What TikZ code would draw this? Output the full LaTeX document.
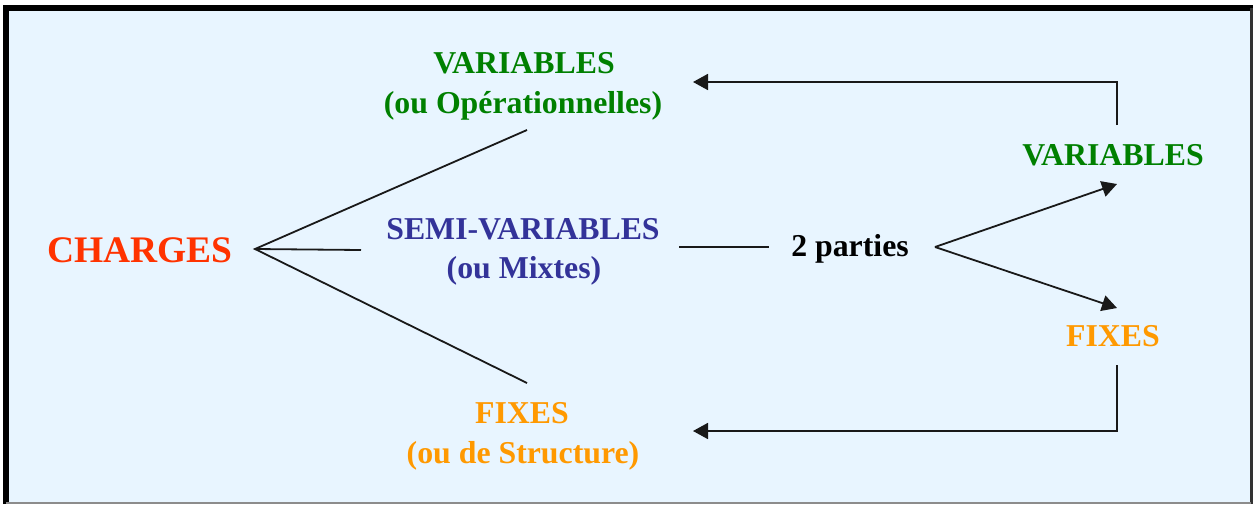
\documentclass[tikz,border=0pt]{standalone}
\usepackage{fontspec}
\setmainfont{Liberation Serif}
\usetikzlibrary{arrows.meta}
\definecolor{bgblue}{RGB}{232,245,255}
\definecolor{cgreen}{RGB}{0,128,0}
\definecolor{cred}{RGB}{255,51,0}
\definecolor{cblue}{RGB}{51,51,153}
\definecolor{corange}{RGB}{255,153,0}
\tikzset{
  lbl/.style={anchor=base, inner sep=0pt, font=\fontsize{31.8}{38}\selectfont\bfseries},
  big/.style={anchor=base, inner sep=0pt, font=\fontsize{37.5}{44}\selectfont\bfseries},
  conn/.style={line width=1.8pt, draw=black!90},
  arr/.style={conn, -{Triangle[length=15pt,width=16pt]}},
}
\begin{document}
\begin{tikzpicture}[x=1pt,y=-1pt]
\useasboundingbox (0,0) rectangle (1253,504);
\fill[white] (0,0) rectangle (1253,504);
\fill[bgblue] (8,10) rectangle (1251,502);
\draw[line width=6pt, black] (6,504) -- (6,8) -- (1253,8);
\draw[line width=3pt, black!80] (1251.5,8) -- (1251.5,504);
\draw[line width=2pt, black!45] (6,502.5) -- (1251,502.5);

% nodes
\node[big, text=cred] (charges) at (140,262) {CHARGES};
\node[lbl, text=cgreen] (var) at (524,73) {VARIABLES};
\node[lbl, text=cgreen] (var2) at (523,113) {(ou Opérationnelles)};
\node[lbl, text=cblue] (semi) at (523,239) {SEMI-VARIABLES};
\node[lbl, text=cblue] (semi2) at (524,278) {(ou Mixtes)};
\node[lbl, text=corange] (fix) at (522,423) {FIXES};
\node[lbl, text=corange] (fix2) at (523,463) {(ou de Structure)};
\node[lbl, text=black] (parties) at (850,256) {2 parties};
\node[lbl, text=cgreen] (rvar) at (1113,165) {VARIABLES};
\node[lbl, text=corange] (rfix) at (1113,346) {FIXES};

% connector points
\coordinate (c0) at (255,249);
\coordinate (cv) at (527,130);
\coordinate (cs) at (361,250);
\coordinate (cf) at (527,383);
\coordinate (s1) at (679,247);
\coordinate (s2) at (769,247);
\coordinate (p0) at (935,247);
\coordinate (pv) at (1117,184);
\coordinate (pf) at (1117,308);
\coordinate (ta) at (1117,125);
\coordinate (tb) at (693,82);
\coordinate (ba) at (1117,365);
\coordinate (bb) at (693,431);

\draw[conn] (cv) -- (c0) -- (cf);
\draw[conn] (c0) -- (cs);
\draw[conn] (s1) -- (s2);
\draw[arr] (p0) -- (pv);
\draw[arr] (p0) -- (pf);
\draw[arr] (ta) |- (tb);
\draw[arr] (ba) |- (bb);
\end{tikzpicture}
\end{document}
